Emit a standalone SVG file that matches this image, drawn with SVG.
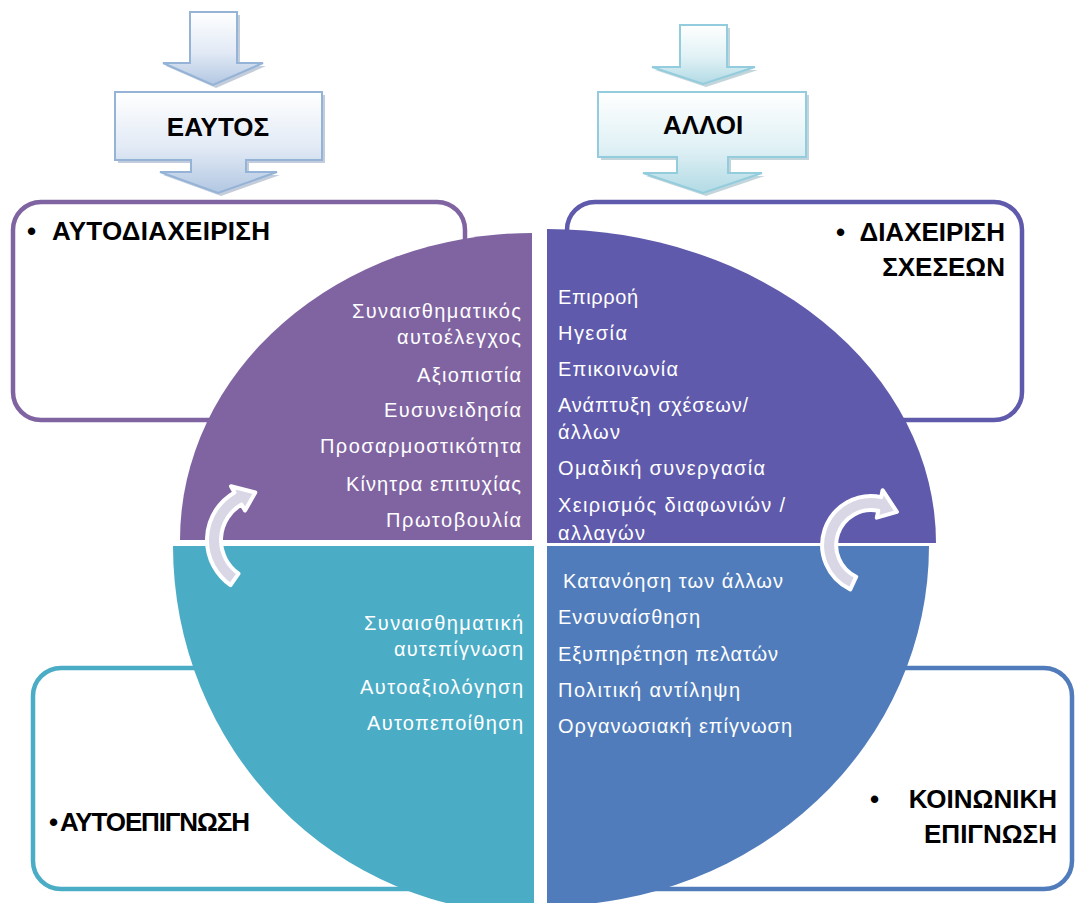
<svg xmlns="http://www.w3.org/2000/svg" width="1076" height="903" viewBox="0 0 1076 903">
<defs>
<linearGradient id="gBlue" x1="0" y1="0" x2="0" y2="1">
<stop offset="0" stop-color="#FFFFFF"/><stop offset="0.55" stop-color="#E2EAF5"/><stop offset="1" stop-color="#B2C7E2"/>
</linearGradient>
<linearGradient id="gTeal" x1="0" y1="0" x2="0" y2="1">
<stop offset="0" stop-color="#FFFFFF"/><stop offset="0.55" stop-color="#E0F1F5"/><stop offset="1" stop-color="#B2DAE5"/>
</linearGradient>
<clipPath id="clipTR"><path d="M547,543 L547,229 A389,314 0 0 1 936,543 Z"/></clipPath>
<style>
.box{fill:#FFFFFF;stroke-width:4.5}
.head{font-family:"Liberation Sans",Arial,sans-serif;font-weight:bold;font-size:26px;fill:#000000}
.item{font-family:"Liberation Sans",Arial,sans-serif;font-size:20px;fill:#FFFFFF}
.r{text-anchor:end}
.carrow{fill:#D9D6E6;stroke:#FFFFFF;stroke-width:4;stroke-linejoin:round}
.shadowB{fill:#8FA3BD;opacity:0.55}
.shadowT{fill:#8FB3BD;opacity:0.55}
</style>
</defs>
<rect width="1076" height="903" fill="#FFFFFF"/>

<g id="box-autodiacheirisi">
<rect class="box" x="13" y="202" width="452" height="218" rx="28" stroke="#8064A2"/>
</g>
<g id="box-diacheirisi-sxeseon">
<rect class="box" x="567" y="202" width="455" height="218" rx="28" stroke="#5F5AAB"/>
</g>
<g id="box-autoepignosi">
<rect class="box" x="33" y="668" width="487" height="221" rx="28" stroke="#4BACC6"/>
</g>
<g id="box-koinoniki-epignosi">
<rect class="box" x="560" y="668" width="512" height="221" rx="28" stroke="#517CBB"/>
</g>

<g id="quadrant-tl">
<path d="M532,540 L180,540 A352,307 0 0 1 532,233 Z" fill="#8064A2"/>
<text class="item r" x="521" y="318" textLength="169">Συναισθηματικός</text>
<text class="item r" x="521" y="344" textLength="124">αυτοέλεγχος</text>
<text class="item r" x="521" y="382" textLength="104">Αξιοπιστία</text>
<text class="item r" x="521" y="417" textLength="137">Ευσυνειδησία</text>
<text class="item r" x="521" y="453" textLength="201">Προσαρμοστικότητα</text>
<text class="item r" x="521" y="491" textLength="175">Κίνητρα επιτυχίας</text>
<text class="item r" x="521" y="527" textLength="135">Πρωτοβουλία</text>
</g>
<g id="quadrant-tr">
<path d="M547,543 L547,229 A389,314 0 0 1 936,543 Z" fill="#5F5AAB"/>
<g clip-path="url(#clipTR)">
<text class="item" x="558" y="304" textLength="80">Επιρροή</text>
<text class="item" x="558" y="340" textLength="69">Ηγεσία</text>
<text class="item" x="558" y="376" textLength="120">Επικοινωνία</text>
<text class="item" x="558" y="412" textLength="190">Ανάπτυξη σχέσεων/</text>
<text class="item" x="558" y="439" textLength="62">άλλων</text>
<text class="item" x="558" y="475" textLength="207">Ομαδική συνεργασία</text>
<text class="item" x="558" y="512" textLength="227">Χειρισμός διαφωνιών /</text>
<text class="item" x="558" y="540" textLength="87">αλλαγών</text>
</g>
</g>
<g id="quadrant-bl">
<path d="M534,546 L534,914 A361,368 0 0 1 173,546 Z" fill="#4BACC6"/>
<text class="item r" x="523" y="630" textLength="159">Συναισθηματική</text>
<text class="item r" x="523" y="656" textLength="129">αυτεπίγνωση</text>
<text class="item r" x="523" y="694" textLength="163">Αυτοαξιολόγηση</text>
<text class="item r" x="523" y="730" textLength="156">Αυτοπεποίθηση</text>
</g>
<g id="quadrant-br">
<path d="M547,546 L929,546 A382,360 0 0 1 547,906 Z" fill="#517CBB"/>
<text class="item" x="563" y="588" textLength="220">Κατανόηση των άλλων</text>
<text class="item" x="558" y="624" textLength="142">Ενσυναίσθηση</text>
<text class="item" x="558" y="661" textLength="220">Εξυπηρέτηση πελατών</text>
<text class="item" x="558" y="697" textLength="182">Πολιτική αντίληψη</text>
<text class="item" x="558" y="733" textLength="234">Οργανωσιακή επίγνωση</text>
</g>

<g id="label-autodiacheirisi">
<text class="head" x="27" y="240">•</text>
<text class="head" x="52" y="240" textLength="218">ΑΥΤΟΔΙΑΧΕΙΡΙΣΗ</text>
</g>
<g id="label-diacheirisi">
<text class="head" x="836" y="241">•</text>
<text class="head r" x="1005" y="241">ΔΙΑΧΕΙΡΙΣΗ</text>
<text class="head r" x="1005" y="276">ΣΧΕΣΕΩΝ</text>
</g>
<g id="label-autoepignosi">
<text class="head" x="49" y="831">•</text>
<text class="head" x="60" y="831" textLength="190">ΑΥΤΟΕΠΙΓΝΩΣΗ</text>
</g>
<g id="label-koinoniki">
<text class="head" x="870" y="808">•</text>
<text class="head r" x="1057" y="808">ΚΟΙΝΩΝΙΚΗ</text>
<text class="head r" x="1057" y="843">ΕΠΙΓΝΩΣΗ</text>
</g>

<g id="node-eaytos">
<path class="shadowB" transform="translate(3,3)" d="M115,92 H322 V160 H246 V172 H277 L218,193 L160,172 H191 V160 H115 Z"/>
<path d="M115,92 H322 V160 H246 V172 H277 L218,193 L160,172 H191 V160 H115 Z" fill="url(#gBlue)" stroke="#95B3D7" stroke-width="2"/>
<text class="head" x="218" y="136" text-anchor="middle">ΕΑΥΤΟΣ</text>
</g>
<g id="node-alloi">
<path class="shadowT" transform="translate(3,3)" d="M598,92 H806 V157 H728 V173 H762 L703,193 L643,173 H677 V157 H598 Z"/>
<path d="M598,92 H806 V157 H728 V173 H762 L703,193 L643,173 H677 V157 H598 Z" fill="url(#gTeal)" stroke="#93CDDD" stroke-width="2"/>
<text class="head" x="703" y="134" text-anchor="middle">ΑΛΛΟΙ</text>
</g>

<g id="connectors">
<path class="shadowB" transform="translate(3,3)" d="M190,12 H237 V63 H263 L213,85 L163,63 H190 Z"/>
<path d="M190,12 H237 V63 H263 L213,85 L163,63 H190 Z" fill="url(#gBlue)" stroke="#95B3D7" stroke-width="2"/>
<path class="shadowT" transform="translate(3,3)" d="M680,25 H727 V67 H755 L703,84 L652,67 H680 Z"/>
<path d="M680,25 H727 V67 H755 L703,84 L652,67 H680 Z" fill="url(#gTeal)" stroke="#93CDDD" stroke-width="2"/>
<path class="carrow" d="M230.5,585.1 A55,55 0 0 1 234.5,492.4 L231,486.3 L255.3,492.5 L245,510.6 L241.5,504.5 A41,41 0 0 0 238.5,573.6 Z"/>
<path class="carrow" d="M850.3,589.4 A49,49 0 0 1 881.2,497.1 L882.6,490.2 L896.9,511.9 L876.8,517.6 L878.3,510.8 A35,35 0 0 0 856.2,576.7 Z"/>
</g>
</svg>
